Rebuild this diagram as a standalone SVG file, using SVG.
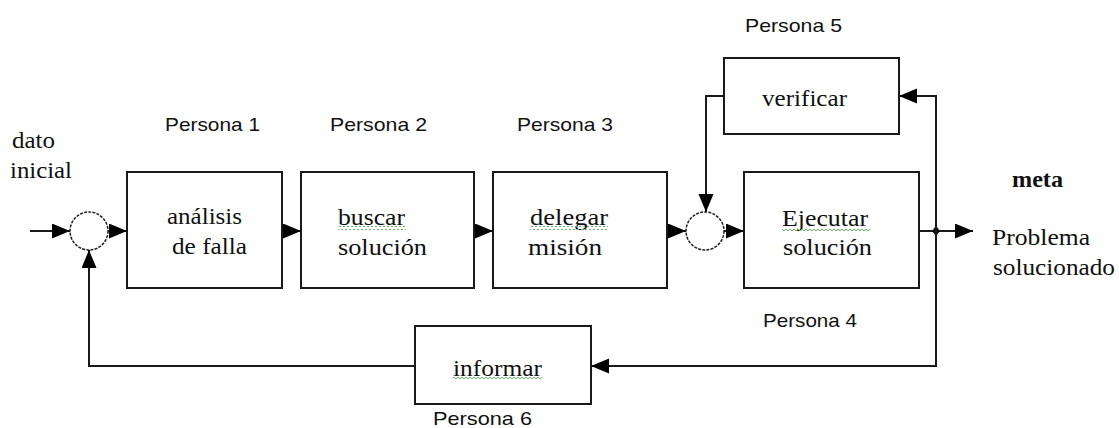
<svg xmlns="http://www.w3.org/2000/svg" width="1119" height="428" viewBox="0 0 1119 428">
<style>
.box{fill:#fff;stroke:#1a1a1a;stroke-width:2}
.sum{fill:#fff;stroke:#222;stroke-width:1.5;stroke-dasharray:3 1.2}
.ln{fill:none;stroke:#1a1a1a;stroke-width:2}
.sr{font-family:"Liberation Serif","Times New Roman",serif;font-size:24px;fill:#111}
.ss{font-family:"Liberation Sans",Arial,sans-serif;font-size:19px;fill:#111}
.wv{fill:url(#wave)}
</style>
<defs>
<marker id="ah" markerUnits="userSpaceOnUse" markerWidth="20" markerHeight="16" refX="18" refY="7.5" orient="auto">
<path d="M0,0 L18,7.5 L0,15 Z" fill="#000"/>
</marker>
<pattern id="wave" patternUnits="userSpaceOnUse" width="4" height="4">
<path d="M0,3 L2,1 L4,3" fill="none" stroke="#6ab46a" stroke-width="1"/>
</pattern>
</defs>
<rect width="1119" height="428" fill="#fff"/>
<g id="connectors">
<path class="ln" d="M30,231 H70" marker-end="url(#ah)"/>
<path class="ln" d="M108,231 H127" marker-end="url(#ah)"/>
<path class="ln" d="M282,231 H301" marker-end="url(#ah)"/>
<path class="ln" d="M474,231 H493" marker-end="url(#ah)"/>
<path class="ln" d="M667,231 H686" marker-end="url(#ah)"/>
<path class="ln" d="M724,231 H744" marker-end="url(#ah)"/>
<path class="ln" d="M919,231 H973" marker-end="url(#ah)"/>
<path d="M936,226 L940,231 L936,236 L932,231 Z" fill="#000"/>
<path class="ln" d="M936,231 V96 H899" marker-end="url(#ah)"/>
<path class="ln" d="M724,96 H706 V212" marker-end="url(#ah)"/>
<path class="ln" d="M936,231 V366 H591" marker-end="url(#ah)"/>
<path class="ln" d="M415,366 H89 V250" marker-end="url(#ah)"/>
</g>
<g id="input-label">
<text class="sr" x="12" y="148" textLength="43" lengthAdjust="spacingAndGlyphs">dato</text>
<text class="sr" x="10" y="178" textLength="62" lengthAdjust="spacingAndGlyphs">inicial</text>
</g>
<g id="sum1"><circle class="sum" cx="89" cy="231" r="19"/></g>
<g id="sum2"><circle class="sum" cx="705" cy="231" r="19"/></g>
<g id="analisis">
<rect class="box" x="127" y="172" width="155" height="116"/>
<text class="ss" x="165" y="131" textLength="95" lengthAdjust="spacingAndGlyphs">Persona 1</text>
<text class="sr" x="167" y="224" textLength="75" lengthAdjust="spacingAndGlyphs">análisis</text>
<text class="sr" x="172" y="254" textLength="75" lengthAdjust="spacingAndGlyphs">de falla</text>
</g>
<g id="buscar">
<rect class="box" x="301" y="172" width="173" height="116"/>
<text class="ss" x="330" y="131" textLength="97" lengthAdjust="spacingAndGlyphs">Persona 2</text>
<text class="sr" x="338" y="225" textLength="67" lengthAdjust="spacingAndGlyphs">buscar</text>
<rect class="wv" x="338" y="226" width="68" height="4"/>
<text class="sr" x="338" y="255" textLength="89" lengthAdjust="spacingAndGlyphs">solución</text>
</g>
<g id="delegar">
<rect class="box" x="493" y="172" width="174" height="116"/>
<text class="ss" x="517" y="131" textLength="96" lengthAdjust="spacingAndGlyphs">Persona 3</text>
<text class="sr" x="530" y="225" textLength="78" lengthAdjust="spacingAndGlyphs">delegar</text>
<rect class="wv" x="530" y="226" width="78" height="4"/>
<text class="sr" x="528" y="255" textLength="74" lengthAdjust="spacingAndGlyphs">misión</text>
</g>
<g id="verificar">
<rect class="box" x="724" y="58" width="175" height="76"/>
<text class="ss" x="745" y="32" textLength="97" lengthAdjust="spacingAndGlyphs">Persona 5</text>
<text class="sr" x="762" y="106" textLength="85" lengthAdjust="spacingAndGlyphs">verificar</text>
</g>
<g id="ejecutar">
<rect class="box" x="744" y="172" width="175" height="116"/>
<text class="sr" x="782" y="226" textLength="86" lengthAdjust="spacingAndGlyphs">Ejecutar</text>
<rect class="wv" x="782" y="227" width="88" height="4"/>
<text class="sr" x="783" y="255" textLength="89" lengthAdjust="spacingAndGlyphs">solución</text>
<text class="ss" x="763" y="327" textLength="94" lengthAdjust="spacingAndGlyphs">Persona 4</text>
</g>
<g id="informar">
<rect class="box" x="415" y="326" width="176" height="78"/>
<text class="sr" x="453" y="376" textLength="89" lengthAdjust="spacingAndGlyphs">informar</text>
<rect class="wv" x="453" y="377" width="89" height="4"/>
<text class="ss" x="433" y="425" textLength="99" lengthAdjust="spacingAndGlyphs">Persona 6</text>
</g>
<g id="meta">
<text class="sr" x="1012" y="187" font-weight="bold" textLength="51" lengthAdjust="spacingAndGlyphs">meta</text>
<text class="sr" x="992" y="245" textLength="98" lengthAdjust="spacingAndGlyphs">Problema</text>
<text class="sr" x="993" y="275" textLength="122" lengthAdjust="spacingAndGlyphs">solucionado</text>
</g>
</svg>
